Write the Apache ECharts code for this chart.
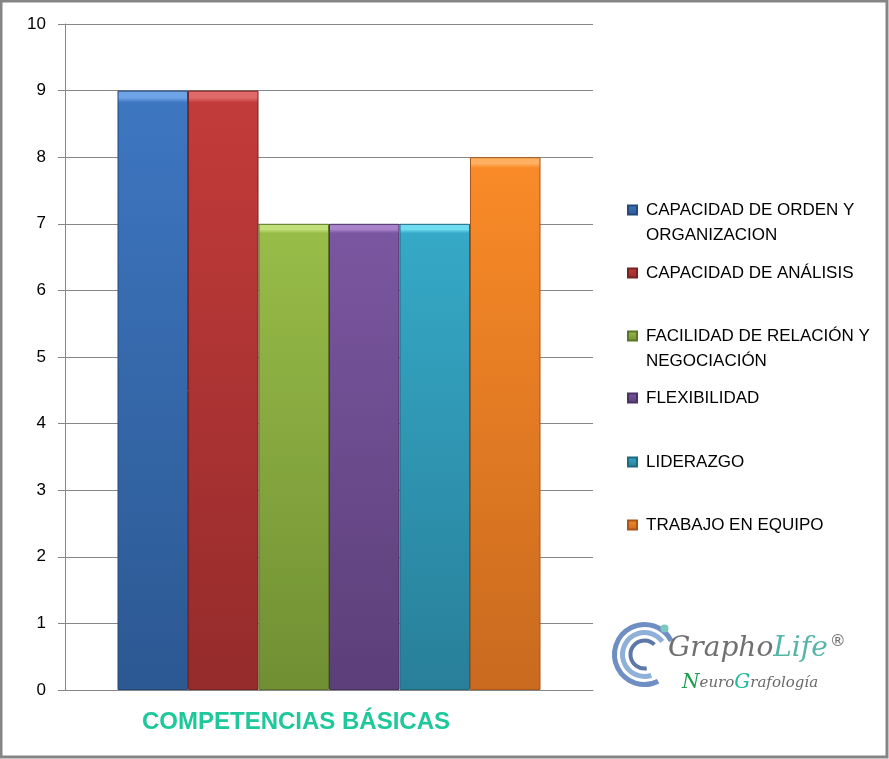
<!DOCTYPE html>
<html>
<head>
<meta charset="utf-8">
<script src="https://cdn.jsdelivr.net/npm/echarts@6/dist/echarts.min.js"></script>
<style>
html,body{margin:0;padding:0;background:#fff;}
#chart{width:889px;height:759px;}
</style>
</head>
<body>
<div id="chart"></div>
<script>
const categories = ['COMPETENCIAS BÁSICAS'];
const seriesNames = [
  'CAPACIDAD DE ORDEN Y ORGANIZACION',
  'CAPACIDAD DE ANÁLISIS',
  'FACILIDAD DE RELACIÓN Y NEGOCIACIÓN',
  'FLEXIBILIDAD',
  'LIDERAZGO',
  'TRABAJO EN EQUIPO'
];
const seriesValues = [9, 9, 7, 7, 7, 8];
const legendLines = [
  ['CAPACIDAD DE ORDEN Y', 'ORGANIZACION'],
  ['CAPACIDAD DE ANÁLISIS'],
  ['FACILIDAD DE RELACIÓN Y', 'NEGOCIACIÓN'],
  ['FLEXIBILIDAD'],
  ['LIDERAZGO'],
  ['TRABAJO EN EQUIPO']
];
const yMin = 0, yMax = 10, yStep = 1;

// styling (colors: [bevel light, top, bottom, edge])
const barColors = [
  ['#6ea3e6', '#3d76c0', '#2c5892', '#24497a'],
  ['#e06a69', '#c23b3a', '#952b2b', '#7a2222'],
  ['#c2e07a', '#98bc48', '#708f33', '#5c7629'],
  ['#a883cc', '#7b56a0', '#5b3f79', '#4a3364'],
  ['#6fdcf2', '#35a9c7', '#287f99', '#206a80'],
  ['#ffb060', '#f98a27', '#c96a1f', '#a85719']
];
const legendCenters = [210, 273, 336, 398, 462, 525];

const chart = echarts.init(document.getElementById('chart'), null, {renderer: 'canvas'});

const series = seriesNames.map((name, i) => ({
  name: name,
  type: 'bar',
  data: [seriesValues[i]],
  barWidth: 70.5,
  barGap: '0%',
  itemStyle: {
    color: {
      type: 'linear', x: 0, y: 0, x2: 0, y2: 1,
      colorStops: [
        {offset: 0, color: barColors[i][0]},
        {offset: 0.012, color: barColors[i][0]},
        {offset: 0.02, color: barColors[i][1]},
        {offset: 1, color: barColors[i][2]}
      ]
    },
    borderColor: barColors[i][3],
    borderWidth: 1
  },
  emphasis: {disabled: true}
}));

const legends = seriesNames.map((name, i) => {
  const lines = legendLines[i];
  const multi = lines.length > 1;
  return {
    data: [name],
    orient: 'vertical',
    left: 627,
    top: legendCenters[i] - (multi ? 37.5 : 12.5),
    padding: 0,
    itemWidth: 9,
    itemHeight: 9,
    icon: 'rect',
    selectedMode: false,
    formatter: () => multi ? '\n' + lines.join('\n') : lines[0],
    textStyle: {
      fontFamily: 'Liberation Sans',
      fontSize: 17,
      lineHeight: 25,
      color: '#000',
      padding: [0, 0, 0, 4]
    }
  };
});

const option = {
  backgroundColor: '#fff',
  animation: false,
  title: {
    text: categories[0],
    left: 142,
    top: 710,
    padding: 0,
    textStyle: {
      color: '#1DC89A',
      fontSize: 24,
      fontWeight: 'bold',
      fontFamily: 'Liberation Sans'
    }
  },
  legend: legends,
  grid: {left: 65, top: 24, right: 296, bottom: 69},
  xAxis: {
    type: 'category',
    data: categories,
    axisLine: {show: true, lineStyle: {color: '#868686', width: 1}},
    axisTick: {show: false},
    axisLabel: {show: false},
    splitLine: {show: false}
  },
  yAxis: {
    type: 'value',
    min: yMin,
    max: yMax,
    interval: yStep,
    axisLine: {show: true, lineStyle: {color: '#868686', width: 1}},
    axisTick: {show: true, length: 7, inside: false, lineStyle: {color: '#868686'}},
    axisLabel: {
      margin: 19,
      color: '#000',
      fontSize: 17,
      fontFamily: 'Liberation Sans'
    },
    splitLine: {show: true, lineStyle: {color: '#868686', width: 1}}
  },
  series: series,
  graphic: [
    {
      type: 'rect',
      shape: {x: 1, y: 1, width: 886, height: 756},
      style: {fill: 'none', stroke: '#858585', lineWidth: 3},
      silent: true, z: 100
    },
    // logo mark
    {
      type: 'group', left: 612, top: 622, silent: true,
      children: [
        {type: 'arc', shape: {cx: 24, cy: 36, r: 30, startAngle: 0.35 * Math.PI, endAngle: 1.85 * Math.PI}, style: {stroke: '#6f8fc4', lineWidth: 5, fill: 'none'}},
        {type: 'arc', shape: {cx: 24, cy: 36, r: 22, startAngle: 0.4 * Math.PI, endAngle: 1.8 * Math.PI}, style: {stroke: '#8fb0d8', lineWidth: 5, fill: 'none'}},
        {type: 'arc', shape: {cx: 24, cy: 36, r: 14, startAngle: 0.45 * Math.PI, endAngle: 1.75 * Math.PI}, style: {stroke: '#5b78a8', lineWidth: 4, fill: 'none'}},
        {type: 'circle', shape: {cx: 44, cy: 10, r: 4}, style: {fill: '#7cc7c0'}}
      ]
    },
    {
      type: 'text', left: 668, top: 634, silent: true,
      style: {
        text: '{g|Grapho}{l|Life}{r|®}',
        rich: {
          g: {fontFamily: 'DejaVu Serif', fontStyle: 'italic', fontSize: 28, fill: '#707070'},
          l: {fontFamily: 'DejaVu Serif', fontStyle: 'italic', fontSize: 28, fill: '#55b5a6'},
          r: {fontFamily: 'DejaVu Sans', fontSize: 16, fill: '#707070', verticalAlign: 'top', padding: [0, 0, 14, 2]}
        }
      }
    },
    {
      type: 'text', left: 682, top: 673, silent: true,
      style: {
        text: '{n|N}{t|euro}{gg|G}{t|rafología}',
        rich: {
          n: {fontFamily: 'DejaVu Serif', fontStyle: 'italic', fontSize: 20, fill: '#1a9f48'},
          gg: {fontFamily: 'DejaVu Serif', fontStyle: 'italic', fontSize: 20, fill: '#22b89a'},
          t: {fontFamily: 'DejaVu Serif', fontStyle: 'italic', fontSize: 15, fill: '#6a6a6a'}
        }
      }
    }
  ]
};
chart.setOption(option);
</script>
</body>
</html>
